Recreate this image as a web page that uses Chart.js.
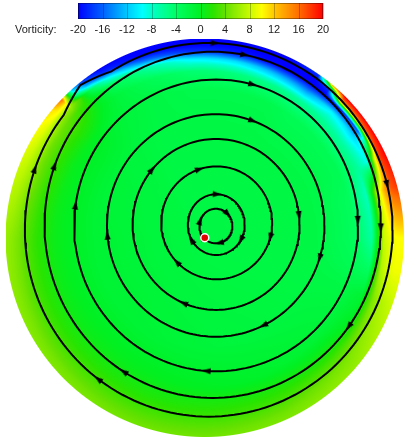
<!DOCTYPE html>
<html lang="en">
<head>
<meta charset="UTF-8" />
<title>Vorticity</title>
<script src="https://cdn.jsdelivr.net/npm/chart.js"></script>
<style>
  html, body { margin: 0; padding: 0; background: #fff; }
</style>
</head>
<body>
<canvas id="vortChart" width="409" height="442"></canvas>
<script>
// colour bar
var cbTicks = [-20, -16, -12, -8, -4, 0, 4, 8, 12, 16, 20];
var cmapValues = [-20, -16, -12, -9.5, -8, -4, 0, 2, 4, 8, 10, 12, 16, 20];
var cmapR = [0, 0, 0, 0, 0, 0, 0, 40, 100, 200, 255, 255, 255, 255];
var cmapG = [0, 96, 200, 255, 255, 255, 240, 228, 225, 250, 255, 200, 110, 0];
var cmapB = [255, 255, 255, 255, 200, 100, 35, 0, 0, 0, 0, 0, 0, 0];

// vorticity on a polar grid: radius as fraction of the disk, angle in degrees (ccw from +x)
var gridAngles = [0, 15, 25, 35, 45, 50, 55, 65, 80, 95, 110, 122, 128, 132, 136, 140, 145, 160, 180, 200, 225, 250, 270, 295, 320, 340, 350, 360];
var gridRadii = [0, 0.55, 0.75, 0.84, 0.9, 0.94, 0.97, 1.0];
var vortCenter = -2;
var vortAt55 = [-2, -2, -2, -2, -2, -2, -2, -2, -2, -2, -2, -1.8, -1.6, -1.5, -1.5, -1.4, -1.3, -1.2, -1, -1, -1, -1.2, -1.4, -1.6, -1.8, -2, -2, -2];
var vortAt75 = [-3.5, -3.5, -3, -3, -3, -3, -3, -2.5, -2.5, -2.5, -2, -1.5, -1, -0.5, 0, 0.2, 0.3, 0.5, 0.5, 0.5, 0.5, 0.3, 0, -0.5, -1.2, -2, -3, -3.5];
var vortAt84 = [-6.5, -7.5, -6, -6.5, -6, -6, -6, -5.5, -5, -4.5, -3, -1.5, 0, 1, 2, 2.5, 2.5, 2.5, 2, 2, 1.8, 1.5, 1.5, 1.5, 1, -1, -4, -6.5];
var vortAt90 = [8, 8, -9, -11, -10, -12, -14, -13, -11, -10, -6, -3, 0, 2, 3, 4, 4.5, 4.5, 3.5, 3.2, 3, 2.6, 2.6, 2.8, 3.5, 5, 7, 8];
var vortAt94 = [9.5, 14, 8, -16, -19, -20, -20, -20, -19, -18, -15, -9, -3, 3, 6, 6, 7, 6.5, 4.8, 4.3, 3.8, 3.4, 3.4, 3.8, 5, 7, 9, 9.5];
var vortAt97 = [10, 17, 18, 16, 14, -18, -20, -20, -20, -20, -20, -18, -13, -6, 10, 10, 9, 7.5, 5.5, 5, 4.5, 4, 4, 4.5, 5.5, 7.5, 9.5, 10];
var vortAt100 = [10, 18, 20, 20, 20, 12, -18, -20, -20, -20, -20, -20, -18, -12, 16, 11, 10, 8, 6, 5.5, 5, 4.5, 4.5, 5, 6, 8, 9.5, 10];

// streamlines: closed loops, centre and semi-axes in disk radii
var ringCx = [0.056, 0.058, 0.060, 0.057, 0.055, 0.057, 0.040, 0.020];
var ringCy = [0.059, 0.066, 0.075, 0.067, 0.062, 0.062, 0.065, 0.040];
var ringRx = [0.083, 0.143, 0.279, 0.420, 0.547, 0.714, 0.846, 0.925];
var ringRy = [0.087, 0.153, 0.284, 0.430, 0.560, 0.734, 0.871, 0.940];
// outer loop bends out to the wall at the upper left
var kinkAngle = 132;
var kinkOut = 0.04;
// arrow positions along each loop (degrees)
var arrowAngles = [
  [44, 162, 282],
  [88, 210, 330],
  [108, 345, 224],
  [6, 247, 140],
  [70, 343, 185, 296],
  [75, 2, 172, 266],
  [79, 359, 160, 238, 324],
  [88, 14, 161, 233]
];
var probe = [{ x: 0, y: 0 }];

var vortRows = [gridAngles.map(function () { return vortCenter; }), vortAt55, vortAt75, vortAt84, vortAt90, vortAt94, vortAt97, vortAt100];

function colourFor(v) {
  if (v <= cmapValues[0]) return [cmapR[0], cmapG[0], cmapB[0]];
  var n = cmapValues.length - 1;
  if (v >= cmapValues[n]) return [cmapR[n], cmapG[n], cmapB[n]];
  var k = 0;
  while (v > cmapValues[k + 1]) k++;
  var f = (v - cmapValues[k]) / (cmapValues[k + 1] - cmapValues[k]);
  return [
    cmapR[k] + (cmapR[k + 1] - cmapR[k]) * f,
    cmapG[k] + (cmapG[k + 1] - cmapG[k]) * f,
    cmapB[k] + (cmapB[k + 1] - cmapB[k]) * f
  ];
}

function vorticityAt(rho, deg) {
  var a = 0;
  while (a < gridAngles.length - 2 && deg > gridAngles[a + 1]) a++;
  var fa = (deg - gridAngles[a]) / (gridAngles[a + 1] - gridAngles[a]);
  var r = 0;
  while (r < gridRadii.length - 2 && rho > gridRadii[r + 1]) r++;
  var fr = Math.min(1, (rho - gridRadii[r]) / (gridRadii[r + 1] - gridRadii[r]));
  var lo = vortRows[r][a] + (vortRows[r][a + 1] - vortRows[r][a]) * fa;
  var hi = vortRows[r + 1][a] + (vortRows[r + 1][a + 1] - vortRows[r + 1][a]) * fa;
  return lo + (hi - lo) * fr;
}

function kinkBump(deg) {
  var d = Math.abs(deg - kinkAngle);
  return d < 10 ? kinkOut * (1 - d / 10) : 0;
}

function ringPoints(k) {
  var pts = [];
  for (var s = 0; s <= 360; s += 2) {
    var t = s * Math.PI / 180;
    var b = k === 7 ? kinkBump(s) : 0;
    pts.push({ x: ringCx[k] + (ringRx[k] + b) * Math.cos(t), y: ringCy[k] + (ringRy[k] + b) * Math.sin(t) });
  }
  return pts;
}

var arrowPts = [], arrowRot = [];
arrowAngles.forEach(function (list, k) {
  list.forEach(function (s) {
    var t = s * Math.PI / 180;
    arrowPts.push({ x: ringCx[k] + ringRx[k] * Math.cos(t), y: ringCy[k] + ringRy[k] * Math.sin(t) });
    // clockwise on screen
    arrowRot.push(Math.atan2(ringRx[k] * Math.sin(t), -ringRy[k] * Math.cos(t)) * 180 / Math.PI);
  });
});

function arrowHead() {
  var c = document.createElement('canvas');
  c.width = 7; c.height = 9;
  var g = c.getContext('2d');
  g.fillStyle = '#000';
  g.beginPath();
  g.moveTo(3.5, 0); g.lineTo(6.5, 9); g.lineTo(0.5, 9);
  g.closePath();
  g.fill();
  return c;
}

// flood contour of the vorticity field under the streamlines
const fieldPlugin = {
  id: 'vortField',
  beforeDatasetsDraw(chart) {
    const a = chart.chartArea, xs = chart.scales.x, ys = chart.scales.y;
    const w = Math.round(a.right - a.left), h = Math.round(a.bottom - a.top);
    const off = document.createElement('canvas');
    off.width = w; off.height = h;
    const octx = off.getContext('2d');
    const img = octx.createImageData(w, h);
    const px = Math.abs(xs.getValueForPixel(a.left + 1) - xs.getValueForPixel(a.left));
    for (let j = 0; j < h; j++) {
      const vy = ys.getValueForPixel(a.top + j + 0.5);
      for (let i = 0; i < w; i++) {
        const vx = xs.getValueForPixel(a.left + i + 0.5);
        const rho = Math.sqrt(vx * vx + vy * vy);
        if (rho > 1 + px) continue;
        let deg = Math.atan2(vy, vx) * 180 / Math.PI;
        if (deg < 0) deg += 360;
        const c = colourFor(vorticityAt(Math.min(rho, 1), deg));
        const o = (j * w + i) * 4;
        img.data[o] = c[0]; img.data[o + 1] = c[1]; img.data[o + 2] = c[2];
        img.data[o + 3] = rho > 1 ? 255 * (1 - (rho - 1) / px) : 255;
      }
    }
    octx.putImageData(img, 0, 0);
    chart.ctx.drawImage(off, a.left, a.top);
  }
};

const colourBarPlugin = {
  id: 'colourBar',
  afterDraw(chart) {
    const ctx = chart.ctx;
    const x0 = 78, x1 = 323, y0 = 3, y1 = 19;
    const lo = cbTicks[0], hi = cbTicks[cbTicks.length - 1];
    for (let x = x0; x < x1; x++) {
      const c = colourFor(lo + (x + 0.5 - x0) / (x1 - x0) * (hi - lo));
      ctx.fillStyle = 'rgb(' + c.map(Math.round).join(',') + ')';
      ctx.fillRect(x, y0, 1, y1 - y0);
    }
    ctx.strokeStyle = 'rgba(0,0,0,0.25)';
    ctx.lineWidth = 1;
    cbTicks.forEach(function (v) {
      const x = Math.round(x0 + (v - lo) / (hi - lo) * (x1 - x0)) + 0.5;
      ctx.beginPath(); ctx.moveTo(x, y0); ctx.lineTo(x, y1); ctx.stroke();
    });
    ctx.strokeStyle = 'rgba(0,0,0,0.35)';
    ctx.strokeRect(x0 + 0.5, y0 + 0.5, x1 - x0 - 1, y1 - y0 - 1);
    ctx.fillStyle = '#222';
    ctx.font = '11px "Liberation Sans", Arial, sans-serif';
    ctx.textBaseline = 'alphabetic';
    ctx.textAlign = 'left';
    ctx.fillText('Vorticity:', 15, 33);
    ctx.textAlign = 'center';
    cbTicks.forEach(function (v) {
      ctx.fillText(String(v), x0 + (v - lo) / (hi - lo) * (x1 - x0), 33);
    });
  }
};

var datasets = [
  {
    data: probe, order: 0, pointRadius: 4, pointBackgroundColor: '#e00000',
    pointBorderColor: '#fff', pointBorderWidth: 1.5, showLine: false
  },
  {
    data: arrowPts, order: 1, pointStyle: arrowHead(), pointRotation: arrowRot,
    pointRadius: 4, showLine: false
  }
];
for (var k = 0; k < ringCx.length; k++) {
  datasets.push({
    data: ringPoints(k), order: 2, showLine: true, pointRadius: 0,
    borderColor: '#000', borderWidth: 2, tension: 0, fill: false
  });
}

new Chart(document.getElementById('vortChart'), {
  type: 'scatter',
  data: { datasets: datasets },
  options: {
    responsive: false,
    animation: false,
    events: [],
    layout: { padding: { left: 6, right: 1, top: 39, bottom: 1 } },
    scales: {
      x: { type: 'linear', min: -1, max: 1, display: false },
      y: { type: 'linear', min: -1, max: 1, display: false }
    },
    plugins: { legend: { display: false }, tooltip: { enabled: false } }
  },
  plugins: [fieldPlugin, colourBarPlugin]
});
</script>
</body>
</html>
